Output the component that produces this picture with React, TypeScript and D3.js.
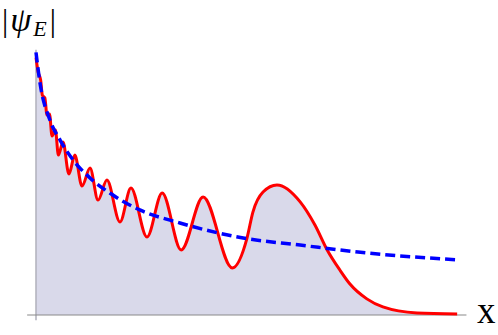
import React from 'react';
import * as d3 from 'd3';

// values (x in arbitrary units 0..10, |psi| scaled 0..1)
const psiX = [0, 0.05, 0.11, 0.15, 0.21, 0.26, 0.32, 0.38, 0.46, 0.53, 0.64, 0.78, 0.92, 1.09, 1.28, 1.47, 1.68, 1.99, 2.25, 2.63, 2.99, 3.44, 3.96, 4.65, 5.0, 5.14, 5.38, 5.71, 6.26, 6.61, 6.9, 7.2, 7.44, 7.84, 8.22, 9.03, 9.98];
const psiY = [0.99, 0.935, 0.904, 0.846, 0.835, 0.769, 0.773, 0.688, 0.712, 0.615, 0.665, 0.542, 0.615, 0.496, 0.565, 0.442, 0.519, 0.358, 0.488, 0.3, 0.469, 0.25, 0.454, 0.181, 0.296, 0.396, 0.473, 0.5, 0.435, 0.346, 0.25, 0.173, 0.119, 0.062, 0.031, 0.008, 0.004];

const wkbX = [0, 0.095, 0.33, 0.57, 0.88, 1.28, 1.75, 2.46, 3.41, 4.91, 6.26, 7.63, 9.98];
const wkbY = [1.01, 0.892, 0.75, 0.673, 0.596, 0.527, 0.469, 0.404, 0.354, 0.296, 0.269, 0.242, 0.212];

const width = 498;
const height = 335;

const App = () => {
    const x = d3.scaleLinear().domain([0, 10]).range([36, 458]);
    const y = d3.scaleLinear().domain([0, 1]).range([315, 55]);

    const psi = psiX.map((v, i) => [v, psiY[i]] as [number, number]);
    const wkb = wkbX.map((v, i) => [v, wkbY[i]] as [number, number]);

    const area = d3.area<[number, number]>()
        .x((d) => x(d[0]))
        .y0(y(0))
        .y1((d) => y(d[1]))
        .curve(d3.curveMonotoneX);

    const line = d3.line<[number, number]>()
        .x((d) => x(d[0]))
        .y((d) => y(d[1]))
        .curve(d3.curveMonotoneX);

    return (
        <svg width={width} height={height} style={{ position: 'absolute', left: 0, top: 0 }}>
            <path d={area(psi) || ''} fill="#d9d9ea" />
            <line x1={x(0)} x2={x(0)} y1={y(-0.02)} y2={y(1.02)} stroke="#b4b4bf" strokeWidth={1.6} />
            <line x1={x(-0.21)} x2={x(10.2)} y1={y(0)} y2={y(0)} stroke="#8a8a8a" strokeWidth={1.2} />
            <path d={line(psi) || ''} fill="none" stroke="#ff0000" strokeWidth={3} />
            <path d={line(wkb) || ''} fill="none" stroke="#0000ff" strokeWidth={3.5} strokeDasharray="10,5" />
            <text x={2} y={31} fontFamily="Liberation Serif" fontSize={31}>
                |<tspan fontStyle="italic" fontSize={34} dx={2}>ψ</tspan>
                <tspan fontStyle="italic" fontSize={22} dx={2} dy={5}>E</tspan>
                <tspan dx={3} dy={-5}>|</tspan>
            </text>
            <text x={477} y={323} fontFamily="Liberation Serif" fontSize={37}>x</text>
        </svg>
    );
};

export default App;
